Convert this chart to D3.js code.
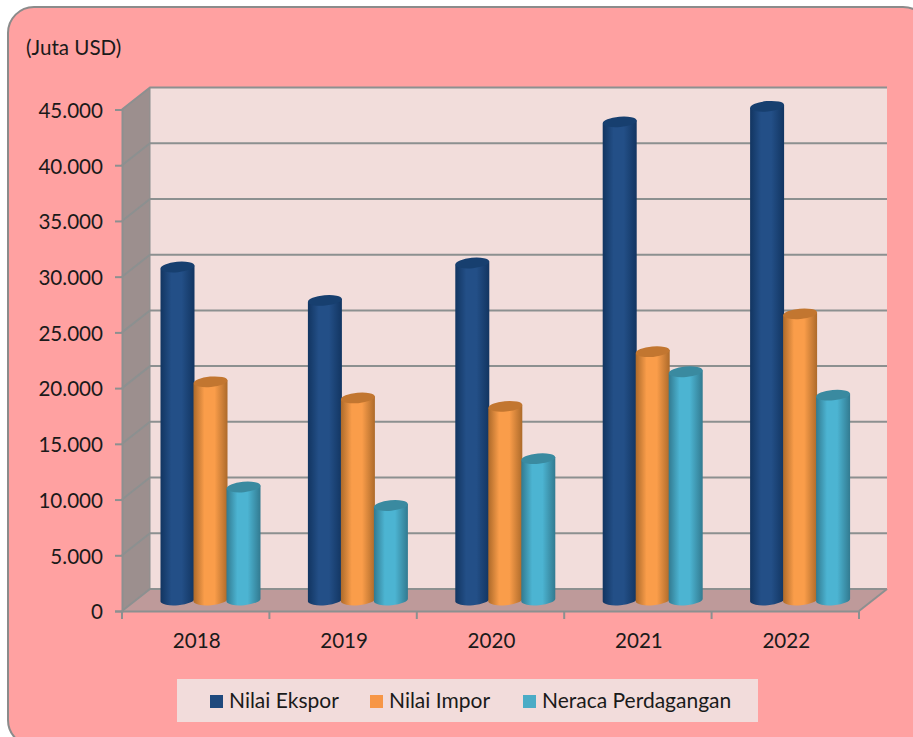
<!DOCTYPE html>
<html><head><meta charset="utf-8">
<style>html,body{margin:0;padding:0;background:#fff;overflow:hidden}svg{display:block}text{font-family:Lato,"Open Sans",sans-serif;fill:#1a1a1a}</style>
<script src="https://cdn.jsdelivr.net/npm/d3@7/dist/d3.min.js"></script></head><body>
<svg id="c" width="913" height="737"></svg>
<script>
const years=["2018","2019","2020","2021","2022"];
const seriesNames=["Nilai Ekspor","Nilai Impor","Neraca Perdagangan"];
const ekspor=[29880,26880,30240,42900,44300];
const impor=[19580,18130,17380,22280,25680];
const neraca=[10140,8480,12680,20480,18380];
const ticks=[0,5000,10000,15000,20000,25000,30000,35000,40000,45000];
const tickLabels=["0","5.000","10.000","15.000","20.000","25.000","30.000","35.000","40.000","45.000"];
const colors=[
 {id:"a",edge:"#123561",mid:"#234f87",top:"#173f6f",sw:"#1f497d"},
 {id:"b",edge:"#ad6a2a",mid:"#fa9d4a",top:"#c27630",sw:"#f79646"},
 {id:"c",edge:"#327a90",mid:"#4cb4d2",top:"#3a8aa0",sw:"#4bacc6"}];
const svg=d3.select("#c");
const defs=svg.append("defs");
colors.forEach(c=>{
 const g=defs.append("linearGradient").attr("id","g"+c.id).attr("x1",0).attr("x2",1).attr("y1",0).attr("y2",0);
 [[0,c.edge],[.32,c.mid],[.62,c.mid],[1,c.edge]].forEach(s=>g.append("stop").attr("offset",s[0]).attr("stop-color",s[1]));
});
// frame
svg.append("rect").attr("x",8).attr("y",7).attr("width",921).attr("height",739).attr("rx",26).attr("fill","#ffa1a1").attr("stroke","#8b8b8b").attr("stroke-width",2);
const grey="#8c9090";
const dx=28,dy=-22;
const y=d3.scaleLinear().domain([0,45000]).range([611,109.5]);
const x=d3.scaleBand().domain(years).range([122,859]);
const xR=x.range();
// walls
const wall=svg.append("g");
wall.append("rect").attr("x",xR[0]+dx).attr("y",y(45000)+dy).attr("width",xR[1]-xR[0]).attr("height",y(0)-y(45000)).attr("fill","#f2dddb");
wall.append("polygon").attr("points",[[xR[0],y(0)],[xR[0]+dx,y(0)+dy],[xR[0]+dx,y(45000)+dy],[xR[0],y(45000)]].join(" ")).attr("fill","#9c8f8e");
wall.append("polygon").attr("points",[[xR[0],y(0)],[xR[0]+dx,y(0)+dy],[xR[1]+dx,y(0)+dy],[xR[1],y(0)]].join(" ")).attr("fill","#be9a9a");
// grid
const grid=svg.append("g").attr("fill","none").attr("stroke",grey).attr("stroke-width",2);
ticks.forEach(t=>{
 grid.append("polyline").attr("points",[[xR[0],y(t)],[xR[0]+dx,y(t)+dy],[xR[1]+dx,y(t)+dy]].join(" "));
});
grid.append("line").attr("x1",xR[0]+dx).attr("x2",xR[0]+dx).attr("y1",y(0)+dy).attr("y2",y(45000)+dy).attr("stroke-width",1);
grid.append("polyline").attr("points",[[xR[1],y(0)],[xR[1]+dx,y(0)+dy]].join(" "));
// axes
const yAxis=d3.axisLeft(y).tickValues(ticks).tickFormat((d,i)=>tickLabels[i]).tickSize(7).tickPadding(12);
const yG=svg.append("g").attr("transform",`translate(${xR[0]},0)`).call(yAxis);
const xAxis=d3.axisBottom(x).tickSize(0).tickPadding(30);
const xG=svg.append("g").attr("transform",`translate(0,${y(0)})`).call(xAxis);
[yG,xG].forEach(g=>{g.selectAll("path.domain").attr("stroke",grey).attr("stroke-width",2);g.selectAll(".tick line").attr("stroke",grey).attr("stroke-width",2);g.selectAll("text").attr("font-size",20.6).style("font-family","Lato").attr("fill","#1a1a1a")});
xG.selectAll(".tick text").attr("dy","0.32em").attr("dx",1);
yG.selectAll(".tick text").attr("dy","0.38em");
xG.selectAll(".sep").data(d3.range(years.length+1)).enter().append("line").attr("class","sep").attr("x1",i=>xR[0]+i*x.step()).attr("x2",i=>xR[0]+i*x.step()).attr("y1",0).attr("y2",8).attr("stroke",grey).attr("stroke-width",2);
// bars
const barW=34, barGap=33, rx=barW/2, ry=5.2, baseY=-11;
const inner=d3.scaleBand().domain([0,1,2]).range([0,barGap*3]);
const series=[ekspor,impor,neraca];
const bars=svg.append("g");
years.forEach((yr,yi)=>{
 const cx0=x(yr)+38.5;
 series.forEach((vals,si)=>{
  const c=colors[si];
  const left=cx0+inner(si), right=left+barW;
  const yb=y(0)+baseY, yt=y(vals[yi])+baseY;
  const tilt=1.6;
  bars.append("path").attr("d",`M${left},${yt+tilt} L${left},${yb+tilt} A${rx},${ry} -5 0 0 ${right},${yb-tilt} L${right},${yt-tilt} Z`).attr("fill",`url(#g${c.id})`);
  bars.append("ellipse").attr("cx",0).attr("cy",0).attr("rx",rx).attr("ry",ry).attr("transform",`translate(${left+rx},${yt}) rotate(-5)`).attr("fill",c.top);
 });
});
// title
svg.append("text").attr("x",26).attr("y",55).attr("font-size",20.6).text("(Juta USD)");
// legend
const lg=svg.append("g");
lg.append("rect").attr("x",177).attr("y",679).attr("width",581).attr("height",43).attr("fill","#f2dcdb");
const lx=[210,370,523];
seriesNames.forEach((n,i)=>{
 lg.append("rect").attr("x",lx[i]).attr("y",695).attr("width",13).attr("height",13).attr("fill",colors[i].sw);
 lg.append("text").attr("x",lx[i]+19).attr("y",708).attr("font-size",21).text(n);
});
</script></body></html>
